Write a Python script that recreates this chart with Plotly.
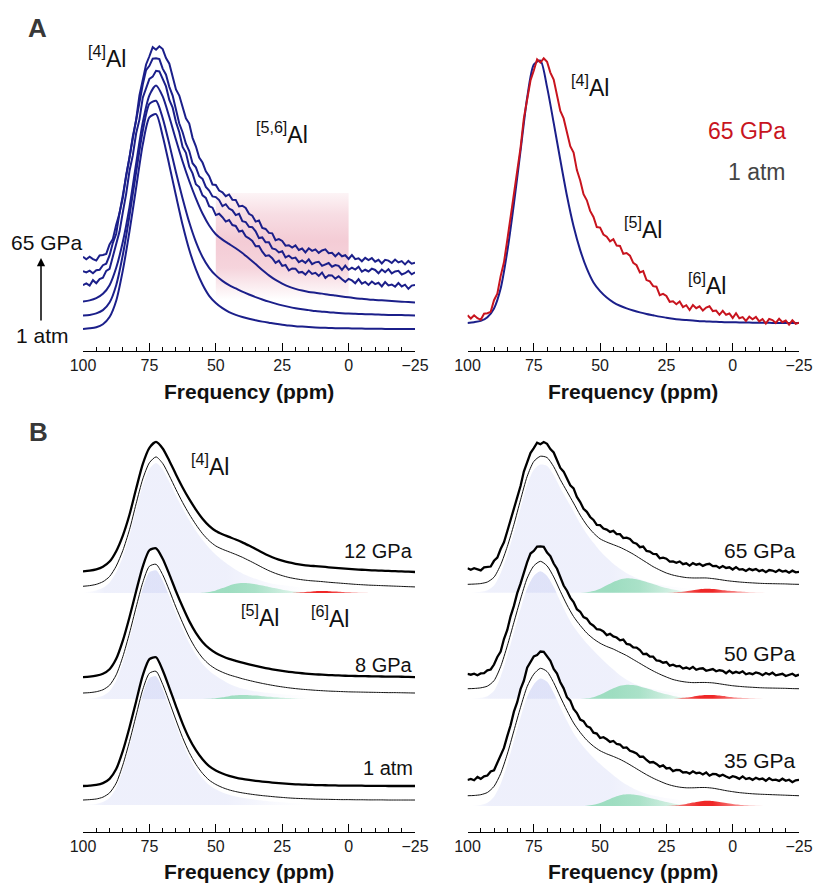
import plotly.graph_objects as go

W, H = 813, 883
FONT = "Liberation Sans, Arial, sans-serif"

# ---------------------------------------------------------------- data
# chemical-shift sampling grids (ppm)
PPM = [100 - 2.5 * k for k in range(51)]
PPM_FINE = [100 - 1.25 * k for k in range(101)]

# measured 27Al spectra, normalised to the [4]Al maximum
atm1_exp = [0.0, 0.003, 0.008, 0.022, 0.055, 0.13, 0.27, 0.45, 0.65, 0.85,
            0.975, 0.99, 0.89, 0.755, 0.615, 0.48, 0.365, 0.275, 0.205, 0.153,
            0.12, 0.096, 0.078, 0.065, 0.055, 0.047, 0.04, 0.034, 0.029, 0.024,
            0.02, 0.016, 0.013, 0.011, 0.009, 0.007, 0.006, 0.005, 0.004, 0.003,
            0.003, 0.002, 0.002, 0.001, 0.001, 0.001, 0.0, 0.0, 0.0, 0.0, 0.0]

gpa8_exp = [0.0, 0.003, 0.01, 0.025, 0.06, 0.14, 0.28, 0.46, 0.66, 0.85,
            0.975, 0.99, 0.91, 0.79, 0.66, 0.54, 0.43, 0.34, 0.27, 0.22,
            0.185, 0.16, 0.14, 0.125, 0.11, 0.097, 0.085, 0.074, 0.064, 0.055,
            0.047, 0.04, 0.034, 0.029, 0.025, 0.021, 0.018, 0.015, 0.013, 0.011,
            0.009, 0.008, 0.007, 0.006, 0.005, 0.004, 0.003, 0.003, 0.002, 0.001, 0.0]

gpa12_exp = [0.005, 0.01, 0.02, 0.04, 0.08, 0.16, 0.28, 0.44, 0.64, 0.83,
             0.955, 1.0, 0.95, 0.855, 0.75, 0.65, 0.56, 0.48, 0.41, 0.355,
             0.315, 0.29, 0.27, 0.25, 0.228, 0.203, 0.177, 0.15, 0.125, 0.104,
             0.087, 0.073, 0.063, 0.055, 0.049, 0.045, 0.041, 0.036, 0.032, 0.028,
             0.024, 0.02, 0.017, 0.014, 0.012, 0.01, 0.008, 0.006, 0.004, 0.002, 0.0]

gpa35_exp = [0.015, 0.023, 0.013, 0.038, 0.024, 0.043, 0.049, 0.081, 0.09, 0.15,
             0.207, 0.262, 0.352, 0.436, 0.541, 0.613, 0.714, 0.778, 0.879, 0.918,
             0.966, 0.976, 1.003, 1.0, 0.965, 0.931, 0.869, 0.833, 0.767, 0.72,
             0.652, 0.625, 0.561, 0.53, 0.48, 0.467, 0.429, 0.417, 0.379, 0.372,
             0.338, 0.344, 0.328, 0.308, 0.315, 0.292, 0.288, 0.262, 0.266, 0.24,
             0.231, 0.219, 0.194, 0.195, 0.169, 0.15, 0.153, 0.139, 0.118, 0.128,
             0.104, 0.108, 0.083, 0.092, 0.091, 0.073, 0.076, 0.064, 0.082, 0.067,
             0.072, 0.058, 0.073, 0.048, 0.061, 0.06, 0.045, 0.056, 0.042, 0.03,
             0.044, 0.037, 0.024, 0.043, 0.022, 0.03, 0.016, 0.032, 0.02, 0.026,
             0.009, 0.029, 0.014, 0.018, 0.008, 0.025, 0.009, 0.017, -0.002, 0.013,
             0.016]

gpa50_exp = [0.016, 0.01, 0.018, 0.006, 0.02, 0.022, 0.043, 0.05, 0.088, 0.146,
             0.188, 0.284, 0.354, 0.459, 0.539, 0.637, 0.71, 0.802, 0.876, 0.942,
             0.962, 0.995, 0.997, 0.993, 0.949, 0.921, 0.865, 0.825, 0.763, 0.696,
             0.656, 0.603, 0.569, 0.513, 0.494, 0.453, 0.441, 0.404, 0.387, 0.36,
             0.357, 0.343, 0.315, 0.324, 0.304, 0.296, 0.274, 0.28, 0.246, 0.242,
             0.22, 0.218, 0.199, 0.168, 0.171, 0.149, 0.149, 0.12, 0.116, 0.102,
             0.107, 0.079, 0.087, 0.074, 0.078, 0.057, 0.065, 0.054, 0.07, 0.048,
             0.056, 0.059, 0.04, 0.046, 0.053, 0.036, 0.044, 0.04, 0.021, 0.041,
             0.022, 0.032, 0.023, 0.036, 0.013, 0.022, 0.014, 0.027, 0.021, 0.006,
             0.023, 0.011, 0.025, 0.005, 0.014, 0.017, 0.0, 0.006, 0.017, 0.001,
             0.01]

gpa65_exp = [0.029, 0.017, 0.029, 0.018, 0.012, 0.035, 0.037, 0.042, 0.086, 0.111,
             0.177, 0.229, 0.313, 0.403, 0.474, 0.576, 0.661, 0.772, 0.848, 0.915,
             0.953, 0.995, 0.983, 0.999, 0.986, 0.945, 0.919, 0.859, 0.80, 0.772,
             0.722, 0.667, 0.643, 0.577, 0.538, 0.486, 0.463, 0.423, 0.40, 0.362,
             0.36, 0.334, 0.326, 0.308, 0.316, 0.292, 0.291, 0.261, 0.264, 0.254,
             0.227, 0.218, 0.191, 0.196, 0.162, 0.157, 0.139, 0.137, 0.105, 0.11,
             0.102, 0.08, 0.082, 0.071, 0.081, 0.06, 0.067, 0.049, 0.068, 0.056,
             0.063, 0.047, 0.058, 0.063, 0.045, 0.047, 0.031, 0.046, 0.031, 0.036,
             0.019, 0.037, 0.018, 0.022, 0.008, 0.024, 0.014, 0.023, 0.006, 0.015,
             -0.002, 0.015, 0.011, 0.0, 0.016, 0.003, 0.009, -0.006, 0.01, -0.003,
             0.001]

# fitted components ([4]Al, [5]Al, [6]Al) on the 2.5 ppm grid
atm1_al4 = list(atm1_exp)

gpa8_al4 = [0.0, 0.003, 0.01, 0.025, 0.06, 0.14, 0.28, 0.46, 0.66, 0.85,
            0.975, 0.99, 0.91, 0.79, 0.66, 0.54, 0.43, 0.34, 0.27, 0.218,
            0.179, 0.147, 0.118, 0.097, 0.08, 0.068, 0.059, 0.052, 0.046, 0.041,
            0.037, 0.033, 0.03, 0.027, 0.025, 0.021, 0.018, 0.015, 0.013, 0.011,
            0.009, 0.008, 0.007, 0.006, 0.005, 0.004, 0.003, 0.003, 0.002, 0.001, 0.0]
gpa8_al5 = [0, 0, 0, 0, 0, 0, 0, 0, 0, 0,
            0, 0, 0, 0, 0, 0, 0, 0, 0, 0.002,
            0.006, 0.013, 0.022, 0.028, 0.03, 0.029, 0.026, 0.022, 0.018, 0.014,
            0.01, 0.007, 0.004, 0.002, 0, 0, 0, 0, 0, 0,
            0, 0, 0, 0, 0, 0, 0, 0, 0, 0, 0]

gpa12_al4 = [0.005, 0.01, 0.02, 0.04, 0.08, 0.16, 0.28, 0.44, 0.64, 0.83,
             0.955, 1.0, 0.95, 0.855, 0.75, 0.65, 0.56, 0.48, 0.408, 0.347,
             0.295, 0.252, 0.213, 0.179, 0.151, 0.128, 0.109, 0.092, 0.078, 0.068,
             0.061, 0.054, 0.049, 0.043, 0.036, 0.03, 0.026, 0.022, 0.021, 0.02,
             0.018, 0.016, 0.015, 0.013, 0.012, 0.01, 0.008, 0.006, 0.004, 0.002, 0.0]
gpa12_al5 = [0, 0, 0, 0, 0, 0, 0, 0, 0, 0,
             0, 0, 0, 0, 0, 0, 0, 0, 0.002, 0.008,
             0.02, 0.038, 0.057, 0.071, 0.077, 0.075, 0.068, 0.058, 0.047, 0.036,
             0.026, 0.018, 0.011, 0.006, 0.003, 0.001, 0, 0, 0, 0,
             0, 0, 0, 0, 0, 0, 0, 0, 0, 0, 0]
gpa12_al6 = [0, 0, 0, 0, 0, 0, 0, 0, 0, 0,
             0, 0, 0, 0, 0, 0, 0, 0, 0, 0,
             0, 0, 0, 0, 0, 0, 0, 0, 0, 0,
             0, 0.001, 0.003, 0.006, 0.01, 0.014, 0.015, 0.014, 0.011, 0.008,
             0.006, 0.004, 0.002, 0.001, 0, 0, 0, 0, 0, 0, 0]

gpa35_al4 = [0.0, 0.002, 0.008, 0.025, 0.072, 0.17, 0.32, 0.5, 0.68, 0.84,
             0.935, 0.98, 0.955, 0.87, 0.76, 0.655, 0.56, 0.487, 0.425, 0.372,
             0.323, 0.278, 0.236, 0.197, 0.163, 0.135, 0.112, 0.094, 0.08, 0.07,
             0.061, 0.053, 0.046, 0.039, 0.032, 0.027, 0.023, 0.02, 0.018, 0.016,
             0.015, 0.014, 0.013, 0.012, 0.011, 0.01, 0.008, 0.006, 0.004, 0.002, 0.0]
gpa35_al5 = [0, 0, 0, 0, 0, 0, 0, 0, 0, 0,
             0, 0, 0, 0, 0, 0, 0, 0, 0.002, 0.009,
             0.023, 0.044, 0.066, 0.083, 0.09, 0.088, 0.08, 0.068, 0.055, 0.042,
             0.03, 0.02, 0.012, 0.006, 0.003, 0.001, 0, 0, 0, 0,
             0, 0, 0, 0, 0, 0, 0, 0, 0, 0, 0]
gpa35_al6 = [0, 0, 0, 0, 0, 0, 0, 0, 0, 0,
             0, 0, 0, 0, 0, 0, 0, 0, 0, 0,
             0, 0, 0, 0, 0, 0, 0, 0, 0, 0,
             0, 0.003, 0.008, 0.016, 0.026, 0.035, 0.04, 0.038, 0.031, 0.023,
             0.016, 0.01, 0.006, 0.003, 0.001, 0, 0, 0, 0, 0, 0]

gpa50_al4 = [0.0, 0.002, 0.007, 0.02, 0.062, 0.17, 0.33, 0.51, 0.69, 0.85,
             0.945, 0.98, 0.945, 0.86, 0.75, 0.645, 0.555, 0.487, 0.425, 0.372,
             0.32, 0.27, 0.225, 0.18, 0.147, 0.12, 0.1, 0.085, 0.073, 0.064,
             0.056, 0.049, 0.042, 0.035, 0.028, 0.023, 0.019, 0.016, 0.014, 0.012,
             0.011, 0.01, 0.009, 0.008, 0.007, 0.006, 0.005, 0.004, 0.003, 0.001, 0.0]
gpa50_al5 = [0, 0, 0, 0, 0, 0, 0, 0, 0, 0,
             0, 0, 0, 0, 0, 0, 0, 0, 0.003, 0.012,
             0.03, 0.055, 0.08, 0.1, 0.108, 0.105, 0.095, 0.08, 0.064, 0.048,
             0.034, 0.022, 0.013, 0.007, 0.003, 0.001, 0, 0, 0, 0,
             0, 0, 0, 0, 0, 0, 0, 0, 0, 0, 0]
gpa50_al6 = [0, 0, 0, 0, 0, 0, 0, 0, 0, 0,
             0, 0, 0, 0, 0, 0, 0, 0, 0, 0,
             0, 0, 0, 0, 0, 0, 0, 0, 0, 0,
             0, 0, 0.004, 0.009, 0.016, 0.024, 0.029, 0.029, 0.024, 0.018,
             0.012, 0.008, 0.005, 0.003, 0.001, 0, 0, 0, 0, 0, 0]

gpa65_al4 = [0.0, 0.002, 0.006, 0.018, 0.055, 0.15, 0.29, 0.46, 0.65, 0.83,
             0.945, 0.985, 0.975, 0.905, 0.805, 0.715, 0.625, 0.532, 0.452, 0.383,
             0.32, 0.269, 0.223, 0.184, 0.15, 0.125, 0.103, 0.086, 0.07, 0.06,
             0.051, 0.045, 0.04, 0.033, 0.027, 0.022, 0.019, 0.016, 0.014, 0.012,
             0.011, 0.01, 0.009, 0.008, 0.007, 0.006, 0.005, 0.004, 0.003, 0.001, 0.0]
gpa65_al5 = [0, 0, 0, 0, 0, 0, 0, 0, 0, 0,
             0, 0, 0, 0, 0, 0, 0, 0, 0.003, 0.012,
             0.03, 0.056, 0.082, 0.101, 0.11, 0.107, 0.097, 0.082, 0.066, 0.05,
             0.036, 0.024, 0.015, 0.008, 0.004, 0.001, 0, 0, 0, 0,
             0, 0, 0, 0, 0, 0, 0, 0, 0, 0, 0]
gpa65_al6 = [0, 0, 0, 0, 0, 0, 0, 0, 0, 0,
             0, 0, 0, 0, 0, 0, 0, 0, 0, 0,
             0, 0, 0, 0, 0, 0, 0, 0, 0, 0,
             0, 0.002, 0.005, 0.011, 0.018, 0.026, 0.03, 0.028, 0.023, 0.017,
             0.012, 0.008, 0.005, 0.003, 0.001, 0, 0, 0, 0, 0, 0]

ZEROS = [0.0] * 51
HIGHLIGHT_PPM = (50, 0)          # shaded [5,6]Al window in panel A
AXIS_TICKS = [100, 75, 50, 25, 0, -25]

# ---------------------------------------------------------------- styles
NAVY = "#1b1f8a"
RED = "#c8141e"
AL4_RGB = "110,125,225"
AL5_RGB = "120,212,165"
AL6_RGB = "238,28,28"


def px_x(x):
    return x / W


def px_y(y):
    return 1 - y / H


fig = go.Figure()


def line(xs, ys, xa, ya, color, width, smooth):
    fig.add_trace(go.Scatter(
        x=xs, y=ys, mode="lines", xaxis=xa, yaxis=ya, hoverinfo="skip",
        line=dict(color=color, width=width,
                  shape="spline" if smooth else "linear", smoothing=0.7)))


def band(xs, lower, upper, xa, ya, smooth_upper, fillcolor=None, grad=None):
    fig.add_trace(go.Scatter(
        x=xs[0], y=lower, mode="lines", xaxis=xa, yaxis=ya, hoverinfo="skip",
        line=dict(width=0, shape="spline", smoothing=0.7)))
    kw = dict(fillgradient=grad) if grad else dict(fillcolor=fillcolor)
    fig.add_trace(go.Scatter(
        x=xs[1], y=upper, mode="lines", xaxis=xa, yaxis=ya, hoverinfo="skip",
        fill="tonexty",
        line=dict(width=0, shape="spline" if smooth_upper else "linear",
                  smoothing=0.7), **kw))


def span(vals):
    nz = [i for i, v in enumerate(vals) if v > 0]
    return max(nz[0] - 1, 0), min(nz[-1] + 1, len(vals) - 1)


# ---------------------------------------------------------------- panel A, left
hl_lo, hl_hi = 0.134, 0.627
fig.add_trace(go.Scatter(
    x=[HIGHLIGHT_PPM[0], HIGHLIGHT_PPM[1], HIGHLIGHT_PPM[1], HIGHLIGHT_PPM[0], HIGHLIGHT_PPM[0]],
    y=[hl_lo, hl_lo, hl_hi, hl_hi, hl_lo], mode="lines", fill="toself",
    line=dict(width=0), hoverinfo="skip", xaxis="x", yaxis="y",
    fillgradient=dict(type="vertical", start=hl_lo, stop=hl_hi, colorscale=[
        [0.0, "rgba(225,120,145,0)"], [0.3, "rgba(225,120,145,0.32)"],
        [0.55, "rgba(225,120,145,0.38)"], [0.8, "rgba(225,120,145,0.25)"],
        [1.0, "rgba(225,120,145,0.08)"]])))

stack_a = [  # (spectrum, grid, vertical offset, smooth)
    (atm1_exp, PPM, 0.0, True),
    (gpa8_exp, PPM, 0.062, True),
    (gpa12_exp, PPM, 0.122, True),
    (gpa35_exp, PPM_FINE, 0.187, False),
    (gpa50_exp, PPM_FINE, 0.251, False),
    (gpa65_exp, PPM_FINE, 0.304, False),
]
for vals, grid, off, smooth in stack_a:
    line(grid, [v + off for v in vals], "x", "y", NAVY, 2.0, smooth)

# ---------------------------------------------------------------- panel A, right
line(PPM, atm1_exp, "x2", "y2", NAVY, 2.0, True)
line(PPM_FINE, gpa65_exp, "x2", "y2", RED, 2.0, False)

# ---------------------------------------------------------------- panel B
AL4_GRAD = dict(type="horizontal", start=100, stop=10, colorscale=[
    [0.0, f"rgba({AL4_RGB},0)"], [0.045, f"rgba({AL4_RGB},0.06)"],
    [0.09, f"rgba({AL4_RGB},0.115)"], [0.6, f"rgba({AL4_RGB},0.115)"],
    [0.72, f"rgba({AL4_RGB},0.075)"], [0.83, f"rgba({AL4_RGB},0.03)"],
    [0.94, f"rgba({AL4_RGB},0)"], [1.0, f"rgba({AL4_RGB},0)"]])
AL5_GRAD = dict(type="horizontal", start=57.5, stop=10, colorscale=[
    [0.0, f"rgba({AL5_RGB},0.68)"], [0.26, f"rgba({AL5_RGB},0.68)"],
    [0.47, f"rgba({AL5_RGB},0.6)"], [0.68, f"rgba({AL5_RGB},0.36)"],
    [0.84, f"rgba({AL5_RGB},0.15)"], [1.0, f"rgba({AL5_RGB},0.03)"]])
AL6_GRAD = dict(type="horizontal", start=25, stop=-17.5, colorscale=[
    [0.0, f"rgba({AL6_RGB},0.35)"], [0.18, f"rgba({AL6_RGB},0.75)"],
    [0.3, f"rgba({AL6_RGB},0.95)"], [0.41, f"rgba({AL6_RGB},0.95)"],
    [0.59, f"rgba({AL6_RGB},0.6)"], [0.76, f"rgba({AL6_RGB},0.28)"],
    [1.0, f"rgba({AL6_RGB},0.03)"]])

# (exp, exp grid, smooth exp, [4]Al, [5]Al, [6]Al, exp / fit / component offsets)
groups_left = [
    (gpa12_exp, PPM, True, gpa12_al4, gpa12_al5, gpa12_al6, (2.0, 1.885, 1.838)),
    (gpa8_exp, PPM, True, gpa8_al4, gpa8_al5, ZEROS, (1.192, 1.069, 1.023)),
    (atm1_exp, PPM, True, atm1_al4, ZEROS, ZEROS, (0.354, 0.246, 0.208)),
]
groups_right = [
    (gpa65_exp, PPM_FINE, False, gpa65_al4, gpa65_al5, gpa65_al6, (2.0, 1.905, 1.841)),
    (gpa50_exp, PPM_FINE, False, gpa50_al4, gpa50_al5, gpa50_al6, (1.20, 1.102, 1.025)),
    (gpa35_exp, PPM_FINE, False, gpa35_al4, gpa35_al5, gpa35_al6, (0.385, 0.279, 0.2)),
]

for groups, xa, ya in ((groups_left, "x3", "y3"), (groups_right, "x4", "y4")):
    for exp, grid, smooth, al4, al5, al6, (o_exp, o_fit, o_cmp) in groups:
        fit = [a + b + c for a, b, c in zip(al4, al5, al6)]
        # clear the space between the measured trace and the [4]Al envelope
        band((PPM, grid), [o_cmp + v for v in al4], [o_exp + v for v in exp],
             xa, ya, smooth, fillcolor="white")
        # [4]Al component
        band((PPM, PPM), [o_cmp] * 51, [o_cmp + v for v in al4], xa, ya, True,
             grad=AL4_GRAD)
        # [5]Al and [6]Al components
        for comp, grad in ((al5, AL5_GRAD), (al6, AL6_GRAD)):
            if max(comp) <= 0:
                continue
            i0, i1 = span(comp)
            xs = PPM[i0:i1 + 1]
            band((xs, xs), [o_cmp] * len(xs), [o_cmp + v for v in comp[i0:i1 + 1]],
                 xa, ya, True, grad=grad)
        line(PPM, [o_fit + v for v in fit], xa, ya, "#111111", 1.0, True)
        line(grid, [o_exp + v for v in exp], xa, ya, "#000000", 2.3, smooth)

# ---------------------------------------------------------------- axes
xa_common = dict(
    range=[100, -25], tickvals=AXIS_TICKS, ticks="inside", ticklen=8,
    tickwidth=1.3, tickcolor="black",
    minor=dict(tick0=0, dtick=5, ticks="inside", ticklen=4, tickwidth=1.3,
               tickcolor="black"),
    showline=True, linewidth=1.3, linecolor="black", showgrid=False,
    zeroline=False, fixedrange=True, automargin=False,
    tickfont=dict(family=FONT, size=16, color="#1a1a1a"))
ya_common = dict(visible=False, showgrid=False, zeroline=False, fixedrange=True,
                 automargin=False)

left_dom = [px_x(83), px_x(415)]
right_dom = [px_x(467.5), px_x(799)]
a_dom = [px_y(351), px_y(30)]
b_dom = [px_y(832), px_y(420)]

fig.update_layout(
    width=W, height=H, margin=dict(l=0, r=0, t=0, b=0, autoexpand=False),
    paper_bgcolor="white", plot_bgcolor="rgba(0,0,0,0)", showlegend=False,
    font=dict(family=FONT, color="#111111", size=16),
    xaxis=dict(domain=left_dom, anchor="y", **xa_common),
    xaxis2=dict(domain=right_dom, anchor="y2", **xa_common),
    xaxis3=dict(domain=left_dom, anchor="y3", **xa_common),
    xaxis4=dict(domain=right_dom, anchor="y4", **xa_common),
    yaxis=dict(domain=a_dom, anchor="x", range=[-0.1014, 1.378], **ya_common),
    yaxis2=dict(domain=a_dom, anchor="x2", range=[-0.1057, 1.1057], **ya_common),
    yaxis3=dict(domain=b_dom, anchor="x3", range=[0, 3.169], **ya_common),
    yaxis4=dict(domain=b_dom, anchor="x4", range=[0, 3.169], **ya_common),
)

# ---------------------------------------------------------------- text
notes = []


def label(text, x, y, size=20, color="#111111", xanchor="center", bold=False):
    if bold:
        text = f"<b>{text}</b>"
    notes.append(dict(text=text, x=px_x(x), y=px_y(y), xref="paper", yref="paper",
                      xanchor=xanchor, yanchor="middle", showarrow=False,
                      font=dict(family=FONT, size=size, color=color)))


label("A", 37, 28, size=26, color="#383838", bold=True)
label("B", 38, 432, size=26, color="#383838", bold=True)

for cx in (249, 633):
    label("Frequency (ppm)", cx, 391, size=21, bold=True)
    label("Frequency (ppm)", cx, 871, size=21, bold=True)

# panel A, left
label("<sup>[4]</sup>Al", 107, 57, size=23)
label("<sup>[5,6]</sup>Al", 282, 133, size=23)
label("65 GPa", 47, 243, size=21)
label("1 atm", 42, 336, size=21)
notes.append(dict(x=px_x(41), y=px_y(258), xref="paper", yref="paper", text="",
                  showarrow=True, ax=0, ay=64, arrowhead=2, arrowsize=1.1,
                  arrowwidth=1.5, arrowcolor="black"))

# panel A, right
label("<sup>[4]</sup>Al", 590, 86, size=23)
label("65 GPa", 788, 131, size=23, color=RED, xanchor="right")
label("1 atm", 788, 172, size=23, color="#444444", xanchor="right")
label("<sup>[5]</sup>Al", 643, 228, size=23)
label("<sup>[6]</sup>Al", 707, 284, size=23)

# panel B, left
label("<sup>[4]</sup>Al", 210, 465, size=23)
label("12 GPa", 415, 551, xanchor="right")
label("<sup>[5]</sup>Al", 260, 616, size=23)
label("<sup>[6]</sup>Al", 330, 617, size=23)
label("8 GPa", 415, 665, xanchor="right")
label("1 atm", 415, 768, xanchor="right")

# panel B, right
label("65 GPa", 798, 550, size=21, xanchor="right")
label("50 GPa", 798, 653, size=21, xanchor="right")
label("35 GPa", 798, 760, size=21, xanchor="right")

fig.update_layout(annotations=notes)

fig.write_html("out.html", include_plotlyjs=True,
               config={"displayModeBar": False})
